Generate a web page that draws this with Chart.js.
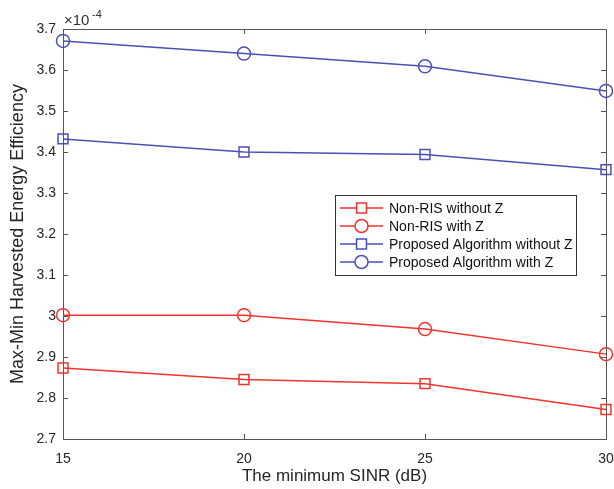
<!DOCTYPE html>
<html>
<head>
<meta charset="utf-8">
<script src="https://cdn.jsdelivr.net/npm/chart.js@4/dist/chart.umd.min.js"></script>
<style>
html,body{margin:0;padding:0;overflow:hidden;background:#fff;width:614px;height:489px;}
canvas{display:block;}
</style>
</head>
<body>
<canvas id="c" width="640" height="489"></canvas>
<script>
// Data (values in units of 1e-4)
const sinr = [15, 20, 25, 30];
const nonRisWithoutZ = [2.873, 2.845, 2.835, 2.772];
const nonRisWithZ = [3.002, 3.002, 2.968, 2.907];
const propWithoutZ = [3.432, 3.400, 3.394, 3.357];
const propWithZ = [3.671, 3.640, 3.609, 3.549];
const yTicks = [2.7, 2.8, 2.9, 3.0, 3.1, 3.2, 3.3, 3.4, 3.5, 3.6, 3.7];
const xTicks = [15, 20, 25, 30];
const seriesLabels = ['Non-RIS without Z', 'Non-RIS with Z', 'Proposed Algorithm without Z', 'Proposed Algorithm with Z'];

const RED = '#f2332b';
const BLUE = '#4a50b8';
const AXIS = '#555555';
const TXT = '#262626';
const FONT = "Arial, 'Liberation Sans', sans-serif";

function pts(arr){ return sinr.map((x,i)=>({x:x, y:arr[i]})); }

function ds(label, data, color, style, radius){
  return {label, data: pts(data), borderColor: color, backgroundColor: 'rgba(0,0,0,0)',
    borderWidth: 1.5, pointStyle: style, pointRadius: radius, pointHoverRadius: radius,
    pointBorderColor: color, pointBackgroundColor: 'rgba(0,0,0,0)', pointBorderWidth: 1.5,
    tension: 0, clip: false};
}

const boxPlugin = {
  id: 'boxPlugin',
  beforeDatasetsDraw(chart){
    const ctx = chart.ctx, ca = chart.chartArea;
    const xs = chart.scales.x, ys = chart.scales.y;
    ctx.save();
    ctx.strokeStyle = AXIS; ctx.lineWidth = 1;
    ctx.strokeRect(Math.round(ca.left)+0.5, Math.round(ca.top)+0.5, Math.round(ca.right-ca.left), Math.round(ca.bottom-ca.top));
    const L = 5;
    ctx.beginPath();
    xTicks.forEach(v=>{
      const px = Math.round(xs.getPixelForValue(v))+0.5;
      ctx.moveTo(px, ca.bottom); ctx.lineTo(px, ca.bottom-L);
      ctx.moveTo(px, ca.top); ctx.lineTo(px, ca.top+L);
    });
    yTicks.forEach(v=>{
      const py = Math.round(ys.getPixelForValue(v))+0.5;
      ctx.moveTo(ca.left, py); ctx.lineTo(ca.left+L, py);
      ctx.moveTo(ca.right, py); ctx.lineTo(ca.right-L, py);
    });
    ctx.stroke();
    // exponent label
    ctx.fillStyle = '#333';
    ctx.textBaseline = 'middle'; ctx.textAlign = 'left';
    ctx.font = '15px ' + FONT;
    ctx.fillText('×10', 64, 21);
    ctx.font = '11px ' + FONT;
    ctx.fillText('-4', 92, 15);
    ctx.restore();
  },
  afterDraw(chart){
    const ctx = chart.ctx;
    const bx = 335, by = 195, bw = 241, bh = 80;
    ctx.save();
    ctx.fillStyle = '#fff';
    ctx.fillRect(bx, by, bw, bh);
    ctx.strokeStyle = '#333'; ctx.lineWidth = 1;
    ctx.strokeRect(bx+0.5, by+0.5, bw, bh);
    const rows = [208, 226, 244, 262];
    chart.data.datasets.forEach((d, i)=>{
      const y = rows[i];
      ctx.strokeStyle = d.borderColor; ctx.lineWidth = 1.5;
      ctx.beginPath(); ctx.moveTo(340, y); ctx.lineTo(383, y); ctx.stroke();
      ctx.fillStyle = '#fff';
      ctx.strokeStyle = d.borderColor;
      Chart.helpers.drawPoint(ctx, {pointStyle: d.pointStyle, radius: d.pointRadius, borderWidth: 1.5}, 361.5, y);
      ctx.fillStyle = '#111';
      ctx.font = '14px ' + FONT;
      ctx.textAlign = 'left'; ctx.textBaseline = 'middle';
      ctx.fillText(d.label, 389, y+1);
    });
    ctx.restore();
  }
};

new Chart(document.getElementById('c'), {
  type: 'line',
  data: { datasets: [
    ds(seriesLabels[0], nonRisWithoutZ, RED, 'rect', 7),
    ds(seriesLabels[1], nonRisWithZ, RED, 'circle', 6.5),
    ds(seriesLabels[2], propWithoutZ, BLUE, 'rect', 7),
    ds(seriesLabels[3], propWithZ, BLUE, 'circle', 6.5)
  ]},
  options: {
    responsive: false, animation: false, devicePixelRatio: 1,
    layout: { padding: { top: 29, right: 34, left: 0, bottom: 0 } },
    plugins: { legend: { display: false }, tooltip: { enabled: false } },
    scales: {
      x: {
        type: 'linear', min: 15, max: 30,
        afterBuildTicks: s => { s.ticks = xTicks.map(v=>({value: v})); },
        afterFit: s => { s.height = 50; },
        grid: { display: false, drawTicks: false },
        border: { display: false },
        ticks: { color: TXT, font: { family: FONT, size: 14 }, padding: 12, maxRotation: 0,
          callback: v => String(v) },
        title: { display: true, text: 'The minimum SINR (dB)', color: TXT,
          font: { family: FONT, size: 17 }, padding: { top: 0, bottom: 2 } }
      },
      y: {
        type: 'linear', min: 2.7, max: 3.7,
        afterBuildTicks: s => { s.ticks = yTicks.map(v=>({value: v})); },
        afterFit: s => { s.width = 63; },
        grid: { display: false, drawTicks: false },
        border: { display: false },
        ticks: { color: TXT, font: { family: FONT, size: 14 }, padding: 7,
          callback: v => String(Number(v.toFixed(1))) },
        title: { display: true, text: 'Max-Min Harvested Energy Efficiency', color: TXT,
          font: { family: FONT, size: 18 }, padding: { top: 7, bottom: 0 } }
      }
    }
  },
  plugins: [boxPlugin]
});
</script>
</body>
</html>
